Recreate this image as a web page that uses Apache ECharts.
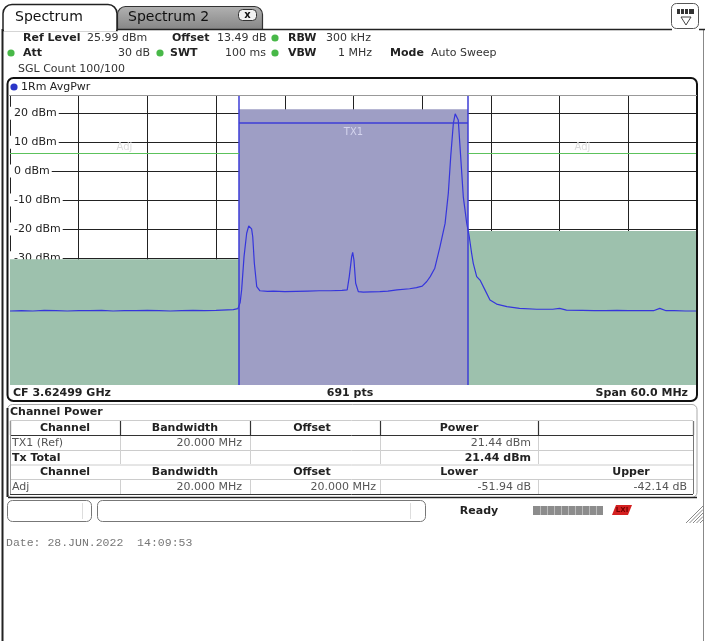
<!DOCTYPE html>
<html><head><meta charset="utf-8">
<script src="https://cdn.jsdelivr.net/npm/echarts@6/dist/echarts.min.js"></script>
<style>html,body{margin:0;padding:0;background:#fff}#c{width:705px;height:641px}</style>
</head><body><div id="c"></div>
<script>
// ---- data ----
const refLevel = 25.99;          // dBm, top of grid
const rangeDb = 100;             // 10 div x 10 dB
const spanHalf = 30;             // MHz (span 60 MHz)
const xDiv = 6;                  // MHz per division
const yTicks = [20, 10, 0, -10, -20, -30, -40, -50, -60, -70];
const txHalfBw = 10;             // TX1 20 MHz
const txPower = 21.44;           // dBm
const adjLowerRel = -51.94;      // dB
const adjUpperRel = -42.14;      // dB
const txBarLevel = 16.6;         // dBm, TX1 label bar
const adjBarLevel = 6.1;         // dBm, Adj label bar
const traceFreq = [-30,-29,-28,-27,-26,-25,-24,-23,-22,-21,-20,-19,-18,-17,-16,-15,-14,-13,-12,-11,-10.5,-10.1,-9.9,-9.77,-9.56,-9.33,-9.15,-9.04,-8.9,-8.8,-8.66,-8.45,-8.17,-7.5,-7,-6,-5,-4,-3,-2,-1,-0.55,-0.37,-0.16,-0.07,0.04,0.19,0.42,0.86,1.5,2.3,3,3.8,4.9,5.5,6,6.4,6.7,7.1,7.55,8,8.28,8.49,8.72,8.88,8.95,9.05,9.15,9.36,9.59,9.89,10.11,10.3,10.46,10.76,11.05,11.48,11.92,12.5,13.4,14.5,16,17.4,18,18.6,20,21,22,23,24,25,26.2,26.75,27.3,28,29,30];
const traceLevel = [-48.4,-48.3,-48.4,-48.2,-48.3,-48.4,-48.3,-48.3,-48.2,-48.4,-48.3,-48.3,-48.2,-48.3,-48.4,-48.3,-48.2,-48.3,-48.2,-48.0,-47.9,-47.6,-45.5,-41.1,-29.6,-21.5,-19.0,-18.6,-20.0,-22.7,-31.9,-40.0,-41.4,-41.6,-41.5,-41.7,-41.6,-41.5,-41.4,-41.4,-41.3,-41.1,-36.5,-29.6,-28.1,-30.8,-38.8,-41.7,-41.9,-41.8,-41.7,-41.5,-41.1,-40.7,-40.3,-39.8,-38.2,-36.5,-33.6,-26.2,-18.1,-7.7,5.0,16.5,19.8,20.2,19.5,17.7,5.0,-8.9,-18.1,-22.7,-28.0,-31.9,-36.5,-37.7,-41.1,-44.6,-46.0,-46.9,-47.5,-47.8,-47.8,-47.5,-48.1,-48.2,-48.3,-48.3,-48.2,-48.3,-48.3,-48.3,-47.5,-48.3,-48.3,-48.4,-48.4];

const yMin = refLevel - rangeDb;
const adjLowerAbs = txPower + adjLowerRel;
const adjUpperAbs = txPower + adjUpperRel;
const traceData = traceFreq.map((f, i) => [f, traceLevel[i]]);

// ---- chrome helpers ----
const F = 'DejaVu Sans';
const G = [];
function txt(x, y, t, o) {
  o = o || {};
  G.push({type:'text', x:x, y:y, z:110, silent:true, style:{text:t, fill:o.c||'#222',
    font:(o.w||'normal')+' '+(o.s||11)+'px "'+(o.f||F)+'"', align:o.a||'left', verticalAlign:'middle'}});
}
function ln(x1, y1, x2, y2, c, w, z) {
  G.push({type:'line', z:z||100, silent:true, shape:{x1:x1,y1:y1,x2:x2,y2:y2}, style:{stroke:c||'#222', lineWidth:w||1}});
}
function rc(x, y, w, h, o) {
  o = o || {};
  G.push({type:'rect', z:o.z||100, silent:true, shape:{x:x,y:y,width:w,height:h,r:o.r||0},
    style:{fill:o.fill||'none', stroke:o.stroke||null, lineWidth:o.lw||1}});
}
function dot(cx, cy, c) {
  G.push({type:'circle', z:100, silent:true, shape:{cx:cx,cy:cy,r:3.6}, style:{fill:c}});
}

// outer frame
ln(2.5, 29, 2.5, 641, '#222', 2);
ln(703.5, 29, 703.5, 641, '#888', 1);
ln(116, 29.5, 672, 29.5, '#222', 1.5);
ln(699, 29.5, 705, 29.5, '#222', 1.5);
// tabs
rc(117.5, 6.5, 145, 23, {r:[8,8,0,0], stroke:'#333', lw:1.2, z:99,
  fill:new echarts.graphic.LinearGradient(0,0,0,1,[{offset:0,color:'#b2b2b2'},{offset:1,color:'#858585'}])});
rc(3, 4.5, 114, 26, {r:[9,9,0,0], fill:'#fff', stroke:'#222', lw:1.5, z:101});
ln(4, 30, 116, 30, '#fff', 2.5, 102);
txt(15, 17, 'Spectrum', {s:14, c:'#111', w:'500'});
txt(128, 17, 'Spectrum 2', {s:14, c:'#111', w:'500'});
rc(238.5, 9.5, 18, 11, {r:4, fill:'#f2f2f2', stroke:'#333'});
txt(247.5, 15, 'x', {s:10, w:'bold', a:'center', c:'#111'});
// right icon
rc(671.5, 3.5, 27, 25, {r:5, fill:'#fff', stroke:'#555'});
rc(677, 9, 17, 5, {fill:'#333'});
ln(680.5, 9, 680.5, 14, '#fff', 1); ln(684.5, 9, 684.5, 14, '#fff', 1); ln(688.5, 9, 688.5, 14, '#fff', 1);
G.push({type:'polygon', z:100, silent:true, shape:{points:[[681,17],[691,17],[686,25]]}, style:{fill:'none', stroke:'#444', lineWidth:1}});

// header settings
txt(23, 38, 'Ref Level', {w:'bold'}); txt(87, 38, '25.99 dBm', {c:'#333'});
txt(172, 38, 'Offset', {w:'bold'}); txt(217, 38, '13.49 dB', {c:'#333'});
dot(275, 38, '#48b848'); txt(288, 38, 'RBW', {w:'bold'}); txt(326, 38, '300 kHz', {c:'#333'});
dot(11, 53, '#48b848'); txt(23, 53, 'Att', {w:'bold'}); txt(150, 53, '30 dB', {a:'right', c:'#333'});
dot(160, 53, '#48b848'); txt(170, 53, 'SWT', {w:'bold'}); txt(266, 53, '100 ms', {a:'right', c:'#333'});
dot(275, 53, '#48b848'); txt(288, 53, 'VBW', {w:'bold'}); txt(372, 53, '1 MHz', {a:'right', c:'#333'});
txt(390, 53, 'Mode', {w:'bold'}); txt(431, 53, 'Auto Sweep', {c:'#333'});
txt(18, 69, 'SGL Count 100/100', {c:'#333'});

// trace panel
rc(7.5, 78, 689.5, 323, {r:6, stroke:'#111', lw:2});
ln(8, 95.5, 697, 95.5, '#999', 1);
dot(14, 87, '#2a35c8');
txt(21, 87, '1Rm AvgPwr', {c:'#222'});
txt(13, 393.5, 'CF 3.62499 GHz', {w:'bold'});
txt(350, 393.5, '691 pts', {w:'bold', a:'center'});
txt(688, 393.5, 'Span 60.0 MHz', {w:'bold', a:'right'});

// channel power table
rc(7.5, 404.5, 689.5, 93, {r:5, stroke:'#aaa', lw:1});
ln(7.5, 408, 7.5, 497, '#222', 2); ln(8, 497.5, 697, 497.5, '#222', 1.5);
txt(10, 412, 'Channel Power', {w:'bold'});
const colEdges = [10, 120, 250, 380, 538, 693];
const rowEdges = [420.5, 435.5, 450.5, 465, 479.5, 494.5];
rowEdges.forEach((y, i) => ln(10, y, 693, y, (i === 1 || i === 5) ? '#333' : '#ccc', 1));
colEdges.forEach(x => ln(x + 0.5, 421, x + 0.5, 435, '#333', 1.2));
colEdges.forEach(x => { ln(x + 0.5, 436, x + 0.5, 464, '#d0d0d0', 1); ln(x + 0.5, 480, x + 0.5, 494, '#d0d0d0', 1); });
ln(10.5, 421, 10.5, 494, '#999', 1); ln(693.5, 421, 693.5, 494, '#777', 1);
const head1 = ['Channel', 'Bandwidth', 'Offset', 'Power'];
const head2 = ['Channel', 'Bandwidth', 'Offset', 'Lower', 'Upper'];
const headX = [65, 185, 312, 459, 631];
head1.forEach((t, i) => txt(headX[i], 428, t, {w:'bold', a:'center'}));
head2.forEach((t, i) => txt(headX[i], 472.5, t, {w:'bold', a:'center'}));
txt(12, 443, 'TX1 (Ref)', {c:'#555'});
txt(242, 443, '20.000 MHz', {c:'#555', a:'right'});
txt(531, 443, txPower.toFixed(2) + ' dBm', {c:'#555', a:'right'});
txt(12, 458, 'Tx Total', {w:'bold'});
txt(531, 458, txPower.toFixed(2) + ' dBm', {w:'bold', a:'right'});
txt(12, 487, 'Adj', {c:'#555'});
txt(242, 487, '20.000 MHz', {c:'#555', a:'right'});
txt(376, 487, '20.000 MHz', {c:'#555', a:'right'});
txt(531, 487, adjLowerRel.toFixed(2) + ' dB', {c:'#555', a:'right'});
txt(687, 487, adjUpperRel.toFixed(2) + ' dB', {c:'#555', a:'right'});

// status bar
rc(7.5, 500.5, 84, 21, {r:5, stroke:'#777'});
ln(82.5, 503, 82.5, 519, '#ddd', 1);
rc(97.5, 500.5, 328, 21, {r:5, stroke:'#777'});
ln(410.5, 503, 410.5, 519, '#ddd', 1);
txt(479, 511.5, 'Ready', {w:'bold', a:'center'});
rc(533, 506, 70, 9, {fill:'#8c8c8c'});
for (let k = 1; k < 10; k++) ln(533.5 + k * 7, 506, 533.5 + k * 7, 515, '#bbb', 1);
G.push({type:'polygon', z:100, silent:true, shape:{points:[[612,515],[616,505],[632,505],[628,515]]}, style:{fill:'#d42020'}});
txt(622, 510.5, 'LXI', {s:7, w:'bold', a:'center', c:'#700'});
for (let k = 0; k < 5; k++) ln(686 + k * 3.5, 523, 703, 506 + k * 3.5, '#888', 1);

// date
txt(6, 543, 'Date: 28.JUN.2022  14:09:53', {f:'Liberation Mono', s:11.5, c:'#777'});

const option = {
  animation: false,
  backgroundColor: '#fff',
  grid: {left: 10, top: 96, width: 687, height: 289, show: false},
  xAxis: {type:'value', min:-spanHalf, max:spanHalf, interval:xDiv,
    axisLine:{show:false}, axisTick:{show:false}, axisLabel:{show:false},
    splitLine:{show:true, lineStyle:{color:'#222', width:1}}},
  yAxis: {type:'value', min:yMin, max:refLevel,
    axisLine:{show:false},
    axisTick:{show:false, customValues:yTicks},
    axisLabel:{inside:true, customValues:yTicks, formatter: v => v + ' dBm', margin:0,
      fontSize:11, fontFamily:F, color:'#222', backgroundColor:'#fff', padding:[1,2,1,4]},
    splitLine:{show:true, lineStyle:{color:'#222', width:1}}},
  graphic: {elements: G},
  series: [
    {type:'line', name:'fills', data:[], z:2, silent:true,
      markArea:{silent:true, itemStyle:{opacity:1}, data:[
        [{xAxis:-txHalfBw, yAxis:yMin, itemStyle:{color:'#9e9ec5'}}, {xAxis:txHalfBw, yAxis:txPower}],
        [{xAxis:-spanHalf, yAxis:yMin, itemStyle:{color:'#9dc1ad'}}, {xAxis:-txHalfBw, yAxis:adjLowerAbs}],
        [{xAxis:txHalfBw, yAxis:yMin, itemStyle:{color:'#9dc1ad'}}, {xAxis:spanHalf, yAxis:adjUpperAbs}]
      ]}},
    {type:'line', name:'bars', data:[], z:3, silent:true,
      markLine:{silent:true, symbol:['none','none'], label:{show:false}, data:[
        {xAxis:-txHalfBw, lineStyle:{color:'#3c3cd6', width:1.5, type:'solid'}},
        {xAxis:txHalfBw, lineStyle:{color:'#3c3cd6', width:1.5, type:'solid'}},
        [{coord:[-txHalfBw, txBarLevel], lineStyle:{color:'#3c3cd6', width:1.5, type:'solid'},
          label:{show:true, formatter:'TX1', position:'insideMiddleBottom', distance:4, color:'#d4d4ee', fontSize:10, fontFamily:F}},
         {coord:[txHalfBw, txBarLevel]}],
        [{coord:[-spanHalf, adjBarLevel], lineStyle:{color:'#5cc25c', width:1, type:'solid'},
          label:{show:true, formatter:'Adj', position:'insideMiddleTop', distance:1, color:'#dcdcdc', fontSize:10, fontFamily:F}},
         {coord:[-txHalfBw, adjBarLevel]}],
        [{coord:[txHalfBw, adjBarLevel], lineStyle:{color:'#5cc25c', width:1, type:'solid'},
          label:{show:true, formatter:'Adj', position:'insideMiddleTop', distance:1, color:'#dcdcdc', fontSize:10, fontFamily:F}},
         {coord:[spanHalf, adjBarLevel]}]
      ]}},
    {type:'line', name:'1Rm AvgPwr', data:traceData, z:4, symbol:'none', smooth:false,
      lineStyle:{color:'#3535dc', width:1.2}, silent:true}
  ]
};
const chart = echarts.init(document.getElementById('c'), null, {renderer:'canvas', width:705, height:641});
chart.setOption(option);
</script>
</body></html>
